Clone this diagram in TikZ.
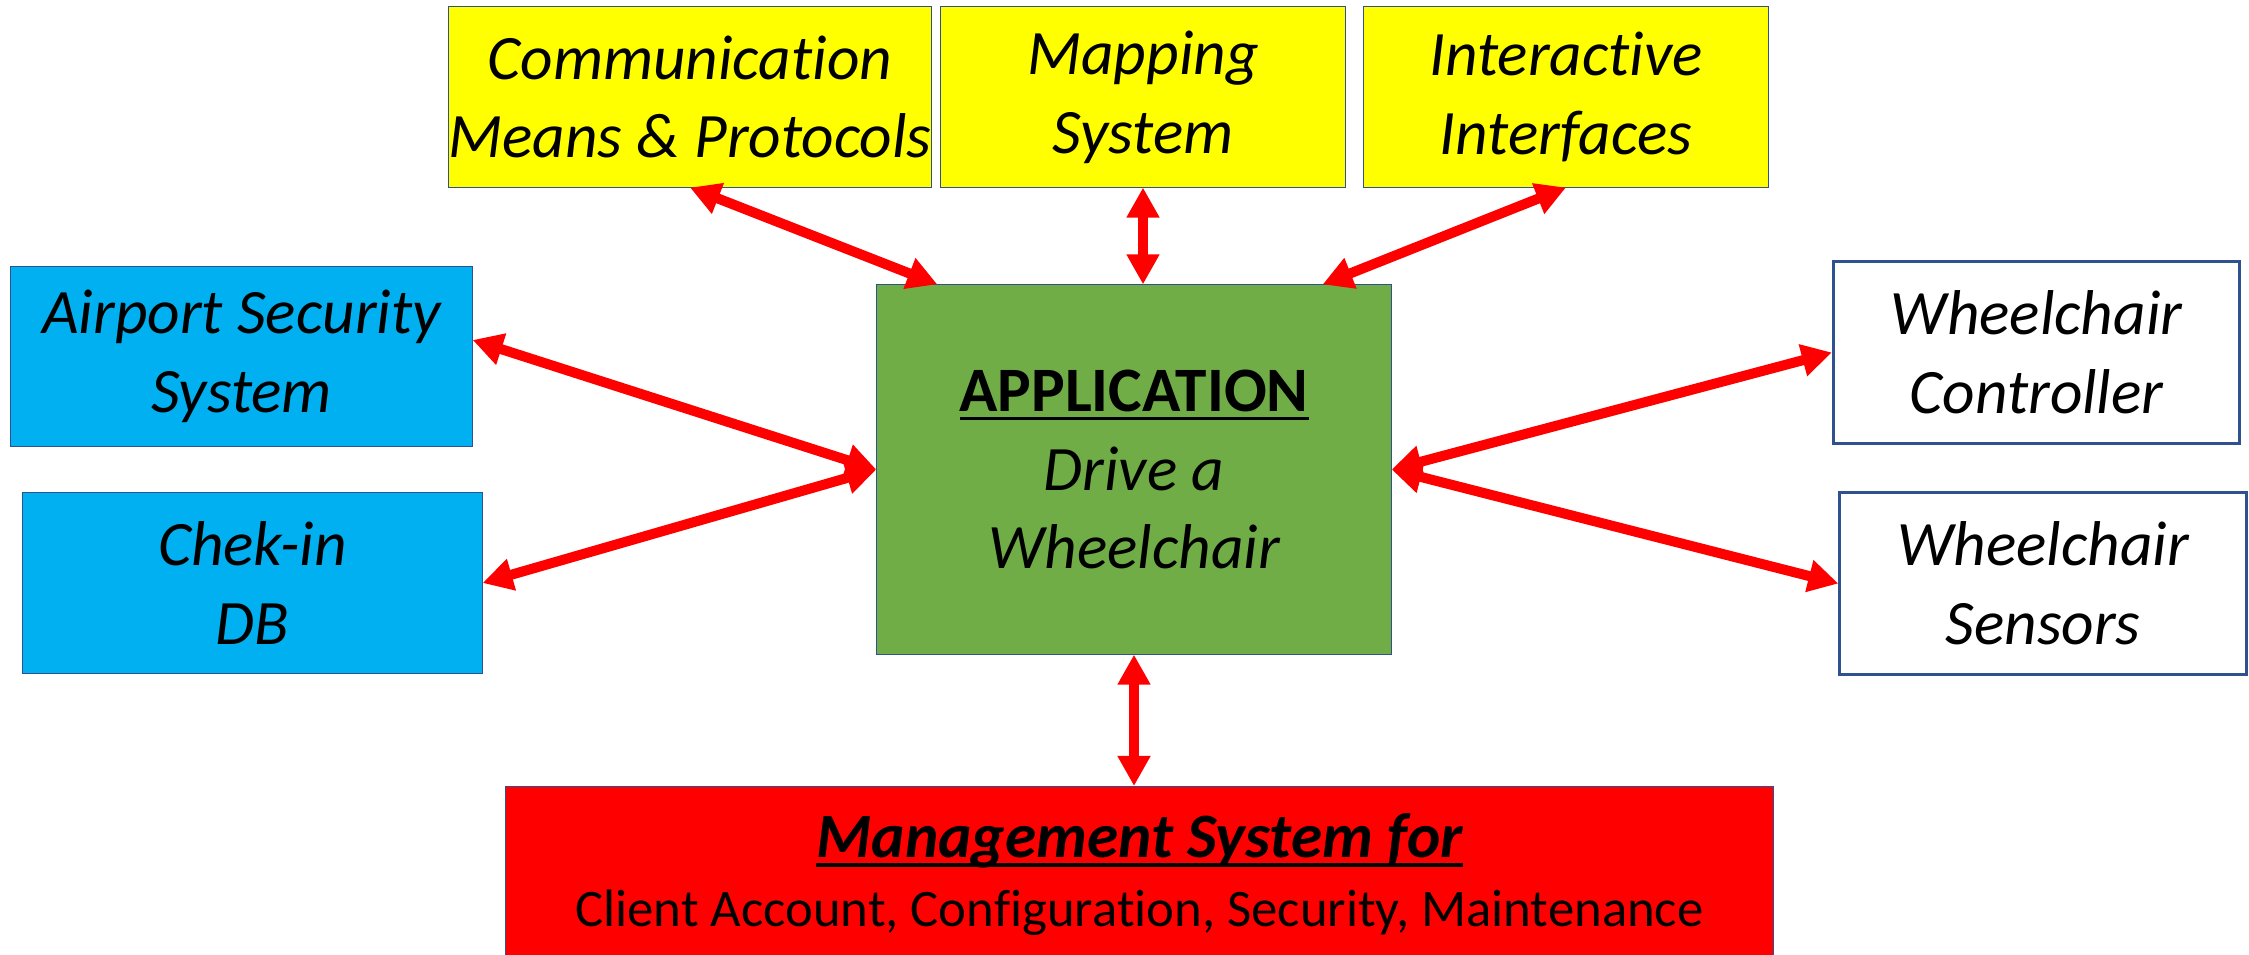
\documentclass[tikz,border=0pt]{standalone}
\usepackage{fontspec}
\setmainfont{Carlito}[Ligatures=NoCommon]
\usetikzlibrary{arrows.meta}

\definecolor{boxyellow}{HTML}{FFFF00}
\definecolor{boxcyan}{HTML}{00B0F0}
\definecolor{boxgreen}{HTML}{70AD47}
\definecolor{boxred}{HTML}{FF0000}
\definecolor{boxedge}{HTML}{2F528F}

% thick underline as in the slide
\newsavebox\ulbox
\newcommand{\thickul}[1]{\sbox\ulbox{#1}\usebox\ulbox\llap{\rule[-0.09cm]{\wd\ulbox}{0.035cm}}}

\tikzset{
  box/.style={draw=boxedge, line width=0.01cm, inner sep=0pt, align=center,
    font=\fontsize{18}{22.4}\selectfont\itshape},
  topbox/.style={box, fill=boxyellow, minimum height=1.8cm},
  sidebox/.style={box, fill=boxcyan, minimum height=1.8cm},
  wcbox/.style={box, fill=white, line width=0.03cm, minimum width=4.06cm, minimum height=1.81cm},
  appbox/.style={box, fill=boxgreen, minimum width=5.14cm, minimum height=3.69cm},
  mgmtbox/.style={box, fill=boxred, minimum width=12.67cm, minimum height=1.76cm},
  link/.style={draw=red, line width=0.1cm, <->, >={Triangle[length=0.3cm,width=0.31cm]}},
}

\begin{document}
\begin{tikzpicture}[x=0.01cm, y=-0.01cm]
    \useasboundingbox (0,0) rectangle (2249,955);
    % Top row
    \node[topbox, minimum width=4.8cm] (comm) at (690,97) {Communication\\Means \& Protocols};
    \node[topbox, minimum width=4.04cm] (mapping) at (1143,97) {Mapping\\System};
    \node[topbox, minimum width=4.04cm] (interact) at (1566,97) {Interactive\\Interfaces};
    % Left side
    \node[sidebox, minimum width=4.61cm, minimum height=1.79cm] (airport) at (241.5,356.5) {Airport Security\\System};
    \node[sidebox, minimum width=4.59cm] (checkin) at (252.5,583) {Chek-in\\DB};
    % Center
    \node[appbox] (app) at (1134,469.5) {{\upshape\bfseries\thickul{APPLICATION}}\\Drive a\\Wheelchair};
    % Right side
    \node[wcbox] (wcctrl) at (2036.5,352.5) {Wheelchair\\Controller};
    \node[wcbox] (wcsens) at (2043,583.5) {Wheelchair\\Sensors};
    % Bottom
    \node[mgmtbox, anchor=north] (mgmt) at (1139.5,786)
      {{\bfseries\thickul{Management System for}}\\[-0.1cm]
       {\upshape\fontsize{15}{18}\selectfont Client Account, Configuration, Security, Maintenance}};
    % Links
    \draw[link] (comm.south) -- ([xshift=0.61cm]app.north west);
    \draw[link] (mapping.south) -- (mapping.south |- app.north);
    \draw[link] (interact.south) -- ([xshift=-0.69cm]app.north east);
    \draw[link] ([yshift=0.165cm]airport.east) -- (app.west);
    \draw[link] (checkin.east) -- (app.west);
    \draw[link] (app.east) -- (wcctrl.west);
    \draw[link] (app.east) -- (wcsens.west);
    \draw[link] (app.south) -- (app.south |- mgmt.north);
\end{tikzpicture}
\end{document}
